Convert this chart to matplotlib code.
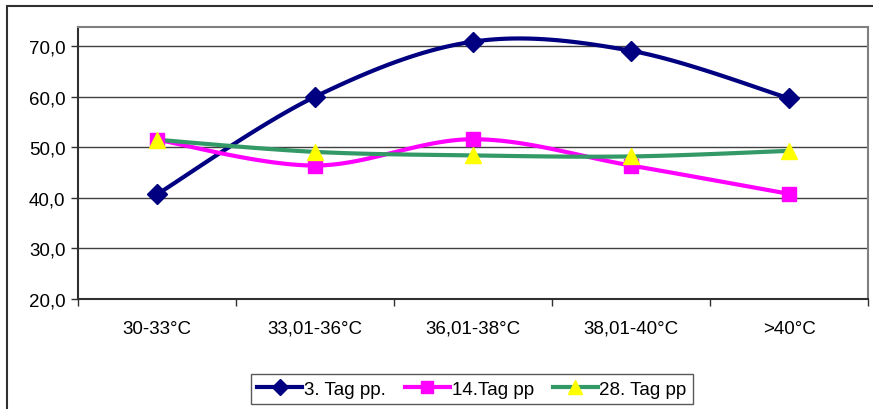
import matplotlib.pyplot as plt
import numpy as np
from matplotlib.patches import Rectangle
from matplotlib.lines import Line2D

plt.rcParams['font.family'] = ['Liberation Sans', 'DejaVu Sans']

# Daten
kategorien = ['30-33°C', '33,01-36°C', '36,01-38°C', '38,01-40°C', '>40°C']
tag3 = [40.7, 60.0, 70.9, 69.1, 59.7]
tag14 = [51.5, 46.4, 51.6, 46.4, 40.8]
tag28 = [51.5, 49.1, 48.4, 48.2, 49.3]
namen = ['3. Tag pp.', '14.Tag pp', '28. Tag pp']


# geglaettete Linie wie in Excel (Catmull-Rom / Bezier)
def glatt(x, y, n=30):
    x = np.asarray(x, float)
    y = np.asarray(y, float)
    px = np.concatenate([[x[0]], x, [x[-1]]])
    py = np.concatenate([[y[0]], y, [y[-1]]])
    xs, ys = [], []
    t = np.linspace(0, 1, n)
    for i in range(1, len(px) - 2):
        p0 = np.array([px[i], py[i]])
        p3 = np.array([px[i + 1], py[i + 1]])
        p1 = p0 + (np.array([px[i + 1], py[i + 1]]) - np.array([px[i - 1], py[i - 1]])) / 6
        p2 = p3 - (np.array([px[i + 2], py[i + 2]]) - np.array([px[i], py[i]])) / 6
        b = ((1 - t) ** 3)[:, None] * p0 + (3 * (1 - t) ** 2 * t)[:, None] * p1 \
            + (3 * (1 - t) * t ** 2)[:, None] * p2 + (t ** 3)[:, None] * p3
        xs.extend(b[:, 0])
        ys.extend(b[:, 1])
    return xs, ys


fig = plt.figure(figsize=(8.73, 4.10), dpi=100)
ax = fig.add_axes([78 / 873, 1 - 300 / 410, 790 / 873, 272 / 410])

# aeusserer Rahmen
fig.patches.append(Rectangle((7 / 873, -0.1), 1.1, 1 - 7 / 410 + 0.1, transform=fig.transFigure,
                             fill=False, edgecolor='#303030', linewidth=1.5))

x = np.arange(len(kategorien))
stile = [
    (tag3, '#000080', 'D', '#000080', 10),
    (tag14, '#FF00FF', 's', '#FF00FF', 10),
    (tag28, '#339966', '^', '#FFFF00', 12),
]
for (werte, farbe, marker, mfarbe, ms), name in zip(stile, namen):
    sx, sy = glatt(x, werte)
    ax.plot(sx, sy, color=farbe, linewidth=3, zorder=3)
    ax.plot(x, werte, linestyle='none', marker=marker, markersize=ms,
            markerfacecolor=mfarbe, markeredgecolor=mfarbe, zorder=4)

fs = 13.5
ax.set_xlim(-0.5, 4.5)
ax.set_ylim(20, 73.8)
ax.set_yticks([20, 30, 40, 50, 60, 70])
ax.set_yticklabels(['20,0', '30,0', '40,0', '50,0', '60,0', '70,0'], fontsize=fs)
ax.set_xticks(x)
ax.set_xticklabels(kategorien, fontsize=fs)
ax.tick_params(axis='x', length=0, pad=15)
ax.set_xticks(np.arange(-0.5, 5, 1), minor=True)
ax.tick_params(axis='x', which='minor', length=5, width=1, color='#303030')
ax.tick_params(axis='y', length=5, width=1, color='#303030', pad=4)
ax.grid(axis='y', color='#404040', linewidth=1)
ax.set_axisbelow(True)
for s in ['top', 'right']:
    ax.spines[s].set_color('#808080')
    ax.spines[s].set_linewidth(1.5)
for s in ['left', 'bottom']:
    ax.spines[s].set_color('#303030')
    ax.spines[s].set_linewidth(1.5)

# Legende
handles = [Line2D([], [], color=f, linewidth=3, marker=m, markersize=ms * 0.8,
                  markerfacecolor=mf, markeredgecolor=mf)
           for (_, f, m, mf, ms) in stile]
leg = fig.legend(handles, namen, loc='center', bbox_to_anchor=(472 / 873, 1 - 390 / 410),
                 ncol=3, fontsize=fs, frameon=True, fancybox=False, handlelength=2.4,
                 handletextpad=0.1, columnspacing=1.0, borderpad=0.35)
leg.get_frame().set_edgecolor('#303030')
leg.get_frame().set_linewidth(1)

fig.savefig('out.png', dpi=100)
